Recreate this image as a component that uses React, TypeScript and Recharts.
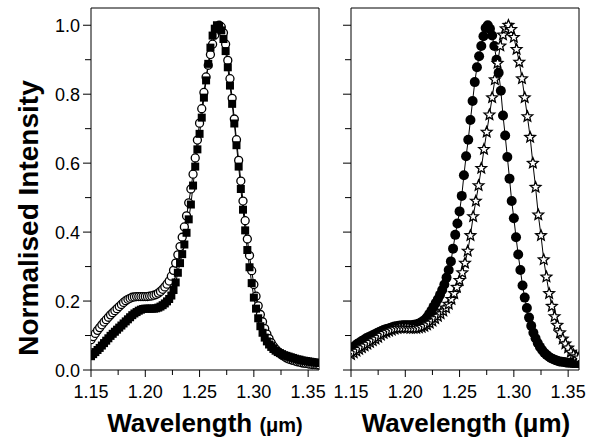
import React from 'react';
import { LineChart, Line, XAxis, YAxis, ReferenceArea } from 'recharts';

const FONT = '"Liberation Sans", Arial, Helvetica, sans-serif';

// wavelength grid (µm) shared by the open circles, squares and filled circles
const wavelength = [
  1.150, 1.152, 1.154, 1.156, 1.158, 1.160, 1.162, 1.164, 1.166, 1.168,
  1.170, 1.172, 1.174, 1.176, 1.178, 1.180, 1.182, 1.184, 1.186, 1.188,
  1.190, 1.192, 1.194, 1.196, 1.198, 1.200, 1.202, 1.204, 1.206, 1.208,
  1.210, 1.212, 1.214, 1.216, 1.218, 1.220, 1.222, 1.224, 1.226, 1.228,
  1.230, 1.232, 1.234, 1.236, 1.238, 1.240, 1.242, 1.244, 1.246, 1.248,
  1.250, 1.252, 1.254, 1.256, 1.258, 1.260, 1.262, 1.264, 1.266, 1.268,
  1.270, 1.272, 1.274, 1.276, 1.278, 1.280, 1.282, 1.284, 1.286, 1.288,
  1.290, 1.292, 1.294, 1.296, 1.298, 1.300, 1.302, 1.304, 1.306, 1.308,
  1.310, 1.312, 1.314, 1.316, 1.318, 1.320, 1.322, 1.324, 1.326, 1.328,
  1.330, 1.332, 1.334, 1.336, 1.338, 1.340, 1.342, 1.344, 1.346, 1.348,
  1.350, 1.352, 1.354, 1.356, 1.358, 1.360,
];

// left panel, open circles
const leftOpen = [
  0.088, 0.097, 0.106, 0.115, 0.123, 0.131, 0.139, 0.146, 0.153, 0.160,
  0.166, 0.172, 0.178, 0.184, 0.190, 0.196, 0.201, 0.205, 0.208, 0.211,
  0.212, 0.213, 0.213, 0.213, 0.213, 0.213, 0.213, 0.214, 0.215, 0.217,
  0.219, 0.223, 0.228, 0.234, 0.241, 0.249, 0.258, 0.272, 0.289, 0.310,
  0.334, 0.358, 0.385, 0.415, 0.447, 0.485, 0.525, 0.568, 0.615, 0.667,
  0.716, 0.758, 0.805, 0.850, 0.884, 0.915, 0.945, 0.972, 0.992, 1.000,
  0.995, 0.978, 0.945, 0.898, 0.845, 0.788, 0.728, 0.668, 0.608, 0.548,
  0.490, 0.433, 0.380, 0.332, 0.288, 0.248, 0.214, 0.186, 0.161, 0.140,
  0.120, 0.104, 0.091, 0.079, 0.069, 0.061, 0.054, 0.048, 0.043, 0.039,
  0.035, 0.032, 0.030, 0.028, 0.026, 0.024, 0.023, 0.021, 0.020, 0.019,
  0.018, 0.017, 0.016, 0.016, 0.015, 0.015,
];

// left panel, filled squares
const leftSquare = [
  0.040, 0.046, 0.052, 0.058, 0.064, 0.071, 0.078, 0.085, 0.092, 0.099,
  0.105, 0.111, 0.117, 0.123, 0.129, 0.135, 0.141, 0.147, 0.153, 0.159,
  0.164, 0.168, 0.172, 0.175, 0.177, 0.178, 0.178, 0.178, 0.178, 0.178,
  0.179, 0.181, 0.184, 0.188, 0.193, 0.199, 0.206, 0.216, 0.232, 0.254,
  0.282, 0.310, 0.336, 0.364, 0.398, 0.437, 0.480, 0.535, 0.590, 0.640,
  0.685, 0.732, 0.790, 0.840, 0.888, 0.935, 0.970, 0.990, 1.000, 0.998,
  0.985, 0.960, 0.925, 0.878, 0.825, 0.772, 0.715, 0.652, 0.590, 0.525,
  0.465, 0.405, 0.348, 0.298, 0.252, 0.210, 0.178, 0.150, 0.127, 0.108,
  0.094, 0.083, 0.074, 0.067, 0.061, 0.056, 0.052, 0.049, 0.046, 0.043,
  0.041, 0.039, 0.037, 0.035, 0.033, 0.031, 0.030, 0.028, 0.027, 0.026,
  0.025, 0.024, 0.023, 0.022, 0.021, 0.020,
];

// right panel, filled circles
const rightFilled = [
  0.061, 0.066, 0.071, 0.076, 0.080, 0.084, 0.088, 0.092, 0.095, 0.098,
  0.101, 0.104, 0.107, 0.110, 0.113, 0.116, 0.118, 0.120, 0.122, 0.124,
  0.126, 0.127, 0.128, 0.129, 0.130, 0.130, 0.130, 0.130, 0.130, 0.131,
  0.132, 0.134, 0.137, 0.141, 0.146, 0.153, 0.162, 0.172, 0.183, 0.194,
  0.205, 0.218, 0.232, 0.248, 0.268, 0.290, 0.315, 0.352, 0.392, 0.425,
  0.460, 0.505, 0.565, 0.620, 0.668, 0.725, 0.780, 0.835, 0.878, 0.910,
  0.940, 0.968, 0.992, 1.000, 0.990, 0.970, 0.940, 0.900, 0.862, 0.810,
  0.738, 0.680, 0.618, 0.555, 0.490, 0.440, 0.385, 0.335, 0.290, 0.245,
  0.210, 0.180, 0.152, 0.128, 0.108, 0.092, 0.078, 0.067, 0.058, 0.050,
  0.044, 0.039, 0.035, 0.032, 0.029, 0.027, 0.025, 0.024, 0.023, 0.022,
  0.021, 0.021, 0.020, 0.020, 0.020, 0.020,
];

// right panel, open stars (sampled a little more coarsely)
const starWavelength = [
  1.1500, 1.1525, 1.1550, 1.1575, 1.1600, 1.1625, 1.1650, 1.1675, 1.1700, 1.1725,
  1.1750, 1.1775, 1.1800, 1.1825, 1.1850, 1.1875, 1.1900, 1.1925, 1.1950, 1.1975,
  1.2000, 1.2025, 1.2050, 1.2075, 1.2100, 1.2125, 1.2150, 1.2175, 1.2200, 1.2225,
  1.2250, 1.2275, 1.2300, 1.2325, 1.2350, 1.2375, 1.2400, 1.2425, 1.2450, 1.2475,
  1.2500, 1.2525, 1.2550, 1.2575, 1.2600, 1.2625, 1.2650, 1.2675, 1.2700, 1.2725,
  1.2750, 1.2775, 1.2800, 1.2825, 1.2850, 1.2875, 1.2900, 1.2925, 1.2950, 1.2975,
  1.3000, 1.3025, 1.3050, 1.3075, 1.3100, 1.3125, 1.3150, 1.3175, 1.3200, 1.3225,
  1.3250, 1.3275, 1.3300, 1.3325, 1.3350, 1.3375, 1.3400, 1.3425, 1.3450, 1.3475,
  1.3500, 1.3525, 1.3550, 1.3575, 1.3600,
];

const rightStar = [
  0.045, 0.050, 0.055, 0.060, 0.065, 0.070, 0.075, 0.080, 0.085, 0.090,
  0.095, 0.101, 0.106, 0.110, 0.113, 0.116, 0.119, 0.121, 0.122, 0.122,
  0.122, 0.122, 0.121, 0.121, 0.121, 0.122, 0.124, 0.127, 0.131, 0.136,
  0.142, 0.149, 0.156, 0.163, 0.171, 0.180, 0.191, 0.205, 0.222, 0.240,
  0.260, 0.282, 0.310, 0.345, 0.390, 0.445, 0.490, 0.535, 0.585, 0.640,
  0.690, 0.740, 0.790, 0.842, 0.890, 0.940, 0.972, 0.990, 1.000, 0.988,
  0.965, 0.930, 0.893, 0.845, 0.790, 0.735, 0.675, 0.600, 0.530, 0.450,
  0.390, 0.320, 0.270, 0.222, 0.185, 0.155, 0.130, 0.108, 0.090, 0.076,
  0.064, 0.052, 0.044, 0.039, 0.035,
];

const xTicks = [1.15, 1.175, 1.2, 1.225, 1.25, 1.275, 1.3, 1.325, 1.35];
const xLabelTicks = [1.15, 1.2, 1.25, 1.3, 1.35];
const yTicks = [0, 0.1, 0.2, 0.3, 0.4, 0.5, 0.6, 0.7, 0.8, 0.9, 1.0];
const yLabelTicks = [0, 0.2, 0.4, 0.6, 0.8, 1.0];

const X_DOMAIN = [1.15, 1.36];
const Y_DOMAIN = [0, 1.05];

const toPoints = (xs: number[], ys: number[]) => xs.map((x, i) => ({ x, y: ys[i] }));

const isIn = (list: number[], v: number) => list.some((m) => Math.abs(m - v) < 1e-6);

function XTick(props: any) {
  const { x, y, payload } = props;
  const major = isIn(xLabelTicks, payload.value);
  return (
    <g>
      <line x1={x} x2={x} y1={y} y2={y + (major ? 7 : 5)} stroke="#000" strokeWidth={1} />
      {major && (
        <text x={x} y={y + 28} textAnchor="middle" fontSize={18} fontFamily={FONT} fill="#000">
          {payload.value.toFixed(2)}
        </text>
      )}
    </g>
  );
}

function YTick(props: any) {
  const { x, y, payload, showLabel } = props;
  const major = isIn(yLabelTicks, payload.value);
  return (
    <g>
      <line x1={x - (major ? 8 : 6)} x2={x} y1={y} y2={y} stroke="#000" strokeWidth={1} />
      {major && showLabel && (
        <text x={x - 11} y={y + 6.5} textAnchor="end" fontSize={18} fontFamily={FONT} fill="#000">
          {payload.value.toFixed(1)}
        </text>
      )}
    </g>
  );
}

const openCircle = (p: any) => (
  <circle key={`oc-${p.index}`} cx={p.cx} cy={p.cy} r={4} fill="#fff" stroke="#000" strokeWidth={1.3} />
);

const square = (p: any) => (
  <rect key={`sq-${p.index}`} x={p.cx - 4} y={p.cy - 4} width={8} height={8} fill="#000" />
);

const filledCircle = (p: any) => (
  <circle key={`fc-${p.index}`} cx={p.cx} cy={p.cy} r={5} fill="#000" />
);

function starPath(cx: number, cy: number, R: number, r: number) {
  let d = '';
  for (let k = 0; k < 10; k++) {
    const rad = k % 2 === 0 ? R : r;
    const a = -Math.PI / 2 + (k * Math.PI) / 5;
    d += `${k === 0 ? 'M' : 'L'}${cx + rad * Math.cos(a)},${cy + rad * Math.sin(a)}`;
  }
  return d + 'Z';
}

const star = (p: any) => (
  <path key={`st-${p.index}`} d={starPath(p.cx, p.cy, 5.6, 2.5)} fill="#fff" stroke="#000" strokeWidth={1.3} />
);

function Panel({ width, right, yWidth, showYLabels, children }: any) {
  return (
    <LineChart width={width} height={441} margin={{ top: 8, right, bottom: 0, left: 0 }}>
      <XAxis
        dataKey="x"
        type="number"
        domain={X_DOMAIN}
        ticks={xTicks}
        interval={0}
        tickSize={0}
        tickMargin={0}
        axisLine={false}
        height={71}
        allowDataOverflow
        tick={(p: any) => <XTick {...p} />}
      />
      <YAxis
        type="number"
        domain={Y_DOMAIN}
        ticks={yTicks}
        interval={0}
        tickSize={0}
        tickMargin={0}
        axisLine={false}
        width={yWidth}
        allowDataOverflow
        tick={(p: any) => <YTick {...p} showLabel={showYLabels} />}
      />
      <ReferenceArea
        x1={1.15}
        x2={1.36}
        y1={0}
        y2={1.05}
        fill="none"
        stroke="#000"
        strokeWidth={1}
        ifOverflow="visible"
      />
      {children}
    </LineChart>
  );
}

export default function App() {
  return (
    <div style={{ position: 'absolute', left: 0, top: 0, width: 598, height: 441, background: '#fff', fontFamily: FONT }}>
      <div style={{ position: 'absolute', left: 0, top: 0 }}>
        <Panel width={330} right={11} yWidth={91} showYLabels>
          <Line
            data={toPoints(wavelength, leftOpen)}
            dataKey="y"
            type="linear"
            stroke="#000"
            strokeWidth={1}
            dot={openCircle}
            activeDot={false}
            isAnimationActive={false}
          />
          <Line
            data={toPoints(wavelength, leftSquare)}
            dataKey="y"
            type="linear"
            stroke="#000"
            strokeWidth={1}
            dot={square}
            activeDot={false}
            isAnimationActive={false}
          />
        </Panel>
      </div>
      <div style={{ position: 'absolute', left: 330, top: 0 }}>
        <Panel width={268} right={19} yWidth={21} showYLabels={false}>
          <Line
            data={toPoints(wavelength, rightFilled)}
            dataKey="y"
            type="linear"
            stroke="#000"
            strokeWidth={1}
            dot={filledCircle}
            activeDot={false}
            isAnimationActive={false}
          />
          <Line
            data={toPoints(starWavelength, rightStar)}
            dataKey="y"
            type="linear"
            stroke="#000"
            strokeWidth={1}
            dot={star}
            activeDot={false}
            isAnimationActive={false}
          />
        </Panel>
      </div>
      <svg width={598} height={441} style={{ position: 'absolute', left: 0, top: 0, pointerEvents: 'none' }}>
        <text
          transform="translate(38,218) rotate(-90)"
          textAnchor="middle"
          fontSize={28}
          fontWeight="bold"
          fontFamily={FONT}
          fill="#000"
        >
          Normalised Intensity
        </text>
        <text x={205} y={432} textAnchor="middle" fontSize={26} fontWeight="bold" fontFamily={FONT} fill="#000">
          Wavelength <tspan fontSize={20}>(μm)</tspan>
        </text>
        <text x={466} y={432} textAnchor="middle" fontSize={26} fontWeight="bold" fontFamily={FONT} fill="#000">
          Wavelength (μm)
        </text>
      </svg>
    </div>
  );
}
